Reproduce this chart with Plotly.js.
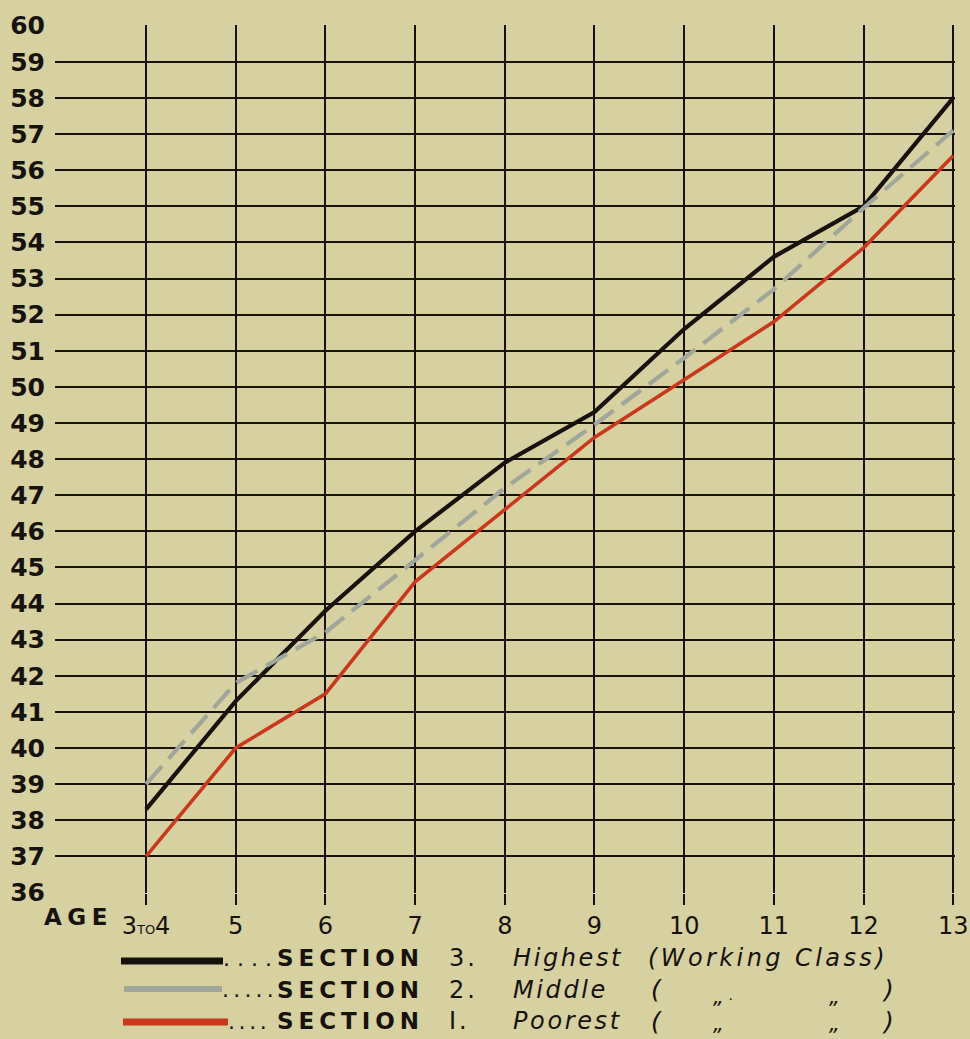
<!DOCTYPE html>
<html>
<head>
<meta charset="utf-8">
<script src="https://cdn.plot.ly/plotly-3.0.1.min.js"></script>
<style>
  html, body { margin: 0; padding: 0; background: #d7d0a0; }
  #chart { width: 970px; height: 1039px; }
</style>
</head>
<body>
<div id="chart"></div>
<script>
// ---- data ----
const ages = ['3to4', '5', '6', '7', '8', '9', '10', '11', '12', '13'];
const ageTickText = ['3<span style="font-size:13px">TO</span>4', '5', '6', '7', '8', '9', '10', '11', '12', '13'];
const section3Highest = [38.3, 41.3, 43.8, 46.0, 47.9, 49.3, 51.6, 53.6, 55.0, 58.0];
const section2Middle  = [39.0, 41.8, 43.2, 45.2, 47.2, 48.95, 50.8, 52.7, 54.95, 57.1];
const section1Poorest = [37.0, 40.0, 41.5, 44.6, 46.6, 48.6, 50.2, 51.8, 53.85, 56.4];
const yTicks = [36,37,38,39,40,41,42,43,44,45,46,47,48,49,50,51,52,53,54,55,56,57,58,59,60];

const legendNums = ['3.', '2.', 'I.'];
const legendLabels = ['Highest', 'Middle', 'Poorest'];
const legendParen = ['(Working Class)', null, null];
const legendDots = [4, 5, 4];

// ---- styles / layout helpers ----
const W = 970, H = 1039;
const mL = 55, mR = 15, mT = 25, mB = 146;
const plotW = W - mL - mR, plotH = H - mT - mB;
const px = X => (X - mL) / plotW;
const py = Y => (H - mB - Y) / plotH;

const ink = '#17120e';
const bg = '#d7d0a0';
const grayC = '#a0a69b';
const redC = '#c9381c';
const legendStyle = [
  {color: ink, width: 7, x0: 121, x1: 223, dotGap: 7},
  {color: grayC, width: 6, x0: 124, x1: 222, dotGap: 4.2},
  {color: redC, width: 7, x0: 123, x1: 228, dotGap: 3.6}
];

// letter spacing via tiny non-breaking-space spans
function spaced(text, gapPx) {
  const s = '<span style="font-size:' + (gapPx / 0.318).toFixed(1) + 'px">\u00a0</span>';
  return Array.from(text).join(s);
}

const traces = [
  {x: ages, y: section3Highest, mode: 'lines', line: {color: ink, width: 4.2}, name: 'Section 3'},
  {x: ages, y: section2Middle, mode: 'lines', line: {color: grayC, width: 4.2, dash: '24px,10px'}, name: 'Section 2'},
  {x: ages, y: section1Poorest, mode: 'lines', line: {color: redC, width: 3.6}, name: 'Section 1'}
];

const shapes = [];
const annotations = [];
const textY = [958, 990, 1021];
const lineY = [961, 989, 1022];
const fam = 'DejaVu Sans';
function ann(X, Y, text, size, extra) {
  annotations.push(Object.assign({xref: 'paper', yref: 'paper', x: px(X), y: py(Y),
    xanchor: 'left', yanchor: 'middle', text: text, showarrow: false,
    font: {family: fam, size: size, color: ink}}, extra || {}));
}

// "AGE" label beside first tick
ann(42, 917, '<b>' + spaced('AGE', 5) + '</b>', 23);

legendNums.forEach((num, i) => {
  const st = legendStyle[i];
  shapes.push({type: 'line', xref: 'paper', yref: 'paper', x0: px(st.x0), x1: px(st.x1),
    y0: py(lineY[i]), y1: py(lineY[i]), line: {color: st.color, width: st.width}});
  const dots = '.'.repeat(legendDots[i]);
  ann(st.x1 - 2, textY[i], spaced(dots, st.dotGap), 22);
  ann(275, textY[i], '<b>' + spaced('SECTION', 4.5) + '</b>', 23);
  ann(447, textY[i], spaced(num, 3), 24);
  ann(511, textY[i], '<i>' + spaced(legendLabels[i], 2.6) + '</i>', 24);
  if (legendParen[i]) {
    ann(646, textY[i], '<i>' + spaced(legendParen[i], 3.4) + '</i>', 24);
  } else {
    ann(649, textY[i], '<i>(</i>', 25);
    const dittoExtra = i === 2 ? {yanchor: 'bottom'} : {};
    const dittoY = i === 2 ? 1038 : textY[i] + 7;
    ann(711, dittoY, '<i>\u201E' + (i === 1 ? '<span style="font-size:14px">\u00a0\u00b7</span>' : '') + '</i>', 21, dittoExtra);
    ann(827, dittoY, '<i>\u201E</i>', 21, dittoExtra);
    ann(880, textY[i], '<i>)</i>', 25);
  }
});

const layout = {
  width: W, height: H,
  margin: {l: mL, r: mR, t: mT, b: mB},
  paper_bgcolor: bg, plot_bgcolor: bg,
  showlegend: false,
  xaxis: {
    type: 'category',
    range: [-1.015, 9.02],
    tickvals: ages, ticktext: ageTickText,
    showgrid: true, gridcolor: ink, gridwidth: 2,
    ticks: 'outside', ticklen: 11, tickwidth: 2, tickcolor: ink,
    tickfont: {family: fam, size: 24, color: ink},
    zeroline: false, showline: false, fixedrange: true
  },
  yaxis: {
    range: [35.985, 60.02],
    tickvals: yTicks, ticktext: yTicks.map(v => '<b>' + v + '</b>'),
    showgrid: true, gridcolor: ink, gridwidth: 2,
    ticks: '', ticklabelstandoff: 9,
    tickfont: {family: fam, size: 25, color: ink},
    zeroline: false, showline: false, fixedrange: true
  },
  shapes: shapes,
  annotations: annotations
};

Plotly.newPlot('chart', traces, layout, {staticPlot: true, displayModeBar: false});
</script>
</body>
</html>
